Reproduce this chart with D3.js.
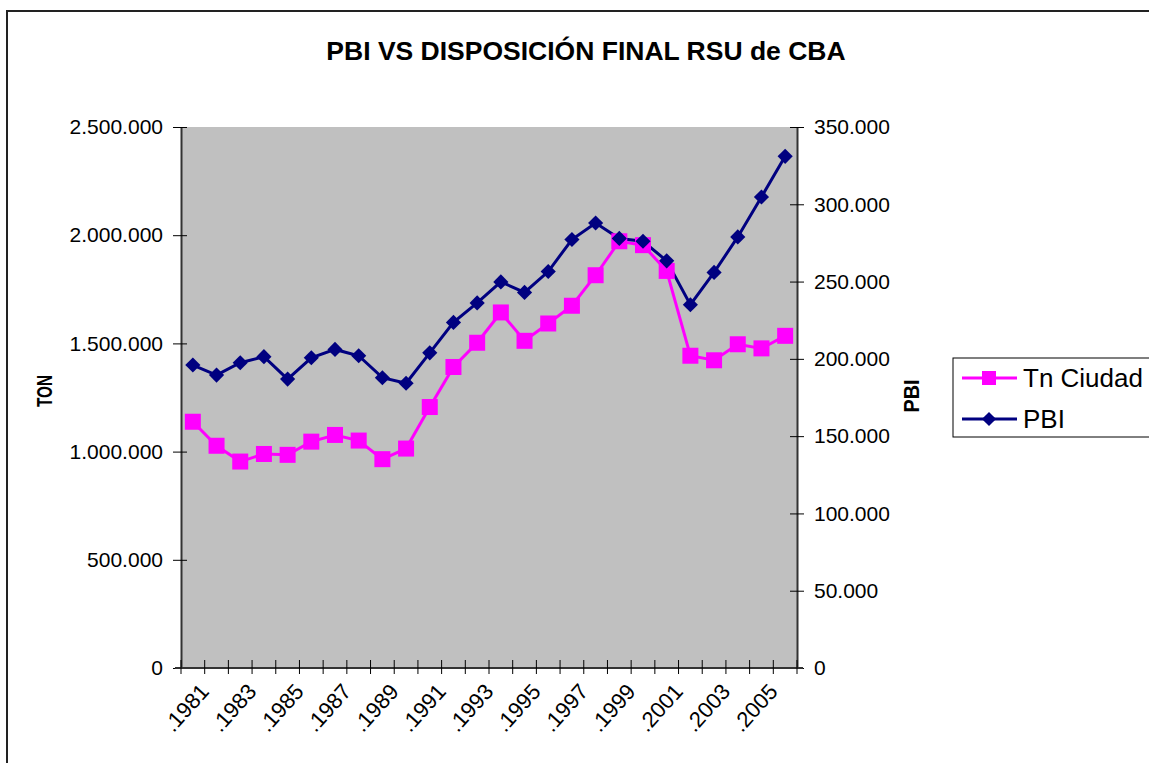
<!DOCTYPE html>
<html>
<head>
<meta charset="utf-8">
<script src="https://cdn.jsdelivr.net/npm/d3@7"></script>
<style>
  body { margin: 0; background: #fff; }
  svg { display: block; font-family: Arial, 'Liberation Sans', sans-serif; }
</style>
</head>
<body>
<div id="chart"></div>
<script>
// years on the category axis
const years = d3.range(1981, 2007)
// tonnes disposed (left axis)
const tnCiudad = [1138000, 1027000, 954000, 989000, 985000, 1046000, 1077000, 1051000, 965000, 1014000,
  1206000, 1391000, 1503000, 1643000, 1512000, 1592000, 1674000, 1815000, 1972000, 1954000,
  1835000, 1443000, 1422000, 1496000, 1477000, 1535000]
// PBI (right axis)
const pbi = [196000, 189500, 197500, 201400, 186900, 200700, 206100, 202000, 187800, 184200,
  203900, 223600, 236200, 249800, 243000, 256500, 277200, 287900, 277900, 276100,
  263400, 235000, 255900, 278900, 304700, 331000]
const leftTicks = [0, 500000, 1000000, 1500000, 2000000, 2500000]
const rightTicks = [0, 50000, 100000, 150000, 200000, 250000, 300000, 350000]
const labelYears = years.filter((d, i) => i % 2 === 0)

const width = 1149
const height = 763
const margin = { top: 127, right: 352, bottom: 95, left: 181 }

const fmt = d => d3.format(',')(d).replace(/,/g, '.')

const svg = d3.select('#chart').append('svg')
  .attr('width', width)
  .attr('height', height)

// outer chart frame (runs off the right/bottom edge)
svg.append('rect')
  .attr('x', 7)
  .attr('y', 11)
  .attr('width', width + 20)
  .attr('height', height + 20)
  .attr('fill', '#fff')
  .attr('stroke', '#222')
  .attr('stroke-width', 2)

const x = d3.scaleBand()
  .domain(years)
  .range([margin.left, width - margin.right])

const yL = d3.scaleLinear()
  .domain([0, 2500000])
  .range([height - margin.bottom, margin.top])

const yR = d3.scaleLinear()
  .domain([0, 350000])
  .range([height - margin.bottom, margin.top])

// plot area
svg.append('rect')
  .attr('x', margin.left)
  .attr('y', margin.top)
  .attr('width', x.range()[1] - margin.left)
  .attr('height', yL(0) - margin.top)
  .attr('fill', '#c0c0c0')

// title
svg.append('text')
  .attr('x', 586)
  .attr('y', 60)
  .attr('text-anchor', 'middle')
  .style('font-weight', 'bold')
  .style('font-size', '26.5px')
  .text('PBI VS DISPOSICIÓN FINAL RSU de CBA')

// left axis
const gL = svg.append('g')
  .attr('transform', `translate(${margin.left},0)`)
  .call(d3.axisLeft(yL).tickValues(leftTicks).tickFormat(fmt).tickSizeInner(8).tickSizeOuter(0).tickPadding(10))
gL.selectAll('.tick line').attr('x2', -8).attr('x1', 6)

// right axis
const xRight = x.range()[1]
const gR = svg.append('g')
  .attr('transform', `translate(${xRight},0)`)
  .call(d3.axisRight(yR).tickValues(rightTicks).tickFormat(fmt).tickSizeInner(7).tickSizeOuter(0).tickPadding(10))
gR.selectAll('.tick line').attr('x1', -7)

// bottom axis: ticks on category boundaries
const bounds = years.map(d => x(d)).concat([xRight])
svg.append('line')
  .attr('x1', margin.left - 6).attr('x2', xRight + 6)
  .attr('y1', yL(0)).attr('y2', yL(0))
  .attr('stroke', '#333').attr('stroke-width', 2)
svg.append('g').selectAll('line')
  .data(bounds)
  .enter().append('line')
  .attr('x1', d => d).attr('x2', d => d)
  .attr('y1', yL(0) - 8).attr('y2', yL(0) + 6)
  .attr('stroke', '#000')

// year labels
svg.append('g').selectAll('text')
  .data(labelYears)
  .enter().append('text')
  .attr('transform', d => `translate(${x(d) + x.bandwidth() / 2 + 6},${yL(0) + 14}) rotate(-48)`)
  .attr('text-anchor', 'end')
  .attr('dy', '0.7em')
  .style('font-size', '22px')
  .text(d => '.' + d)

svg.selectAll('.domain').attr('stroke', '#333').attr('stroke-width', 2)
svg.selectAll('.tick text').style('font-size', '21px').attr('fill', '#000')
svg.selectAll('.tick line').attr('stroke', '#000')

// axis titles
svg.append('text')
  .attr('transform', 'translate(52,391) rotate(-90)')
  .attr('text-anchor', 'middle')
  .style('font-weight', 'bold')
  .style('font-size', '22px')
  .attr('textLength', 32)
  .attr('lengthAdjust', 'spacingAndGlyphs')
  .text('TON')

svg.append('text')
  .attr('transform', 'translate(919,396) rotate(-90)')
  .attr('text-anchor', 'middle')
  .style('font-weight', 'bold')
  .style('font-size', '22px')
  .attr('textLength', 33)
  .attr('lengthAdjust', 'spacingAndGlyphs')
  .text('PBI')

const cx = d => x(d) + x.bandwidth() / 2

// Tn Ciudad series
const lineL = d3.line().x((d, i) => cx(years[i])).y(d => yL(d))
svg.append('path')
  .datum(tnCiudad)
  .attr('fill', 'none')
  .attr('stroke', '#ff00ff')
  .attr('stroke-width', 3)
  .attr('d', lineL)

// PBI series
const lineR = d3.line().x((d, i) => cx(years[i])).y(d => yR(d))
svg.append('path')
  .datum(pbi)
  .attr('fill', 'none')
  .attr('stroke', '#000080')
  .attr('stroke-width', 3)
  .attr('d', lineR)

svg.append('g').selectAll('rect')
  .data(tnCiudad)
  .enter().append('rect')
  .attr('x', (d, i) => cx(years[i]) - 8)
  .attr('y', d => yL(d) - 8)
  .attr('width', 16)
  .attr('height', 16)
  .attr('fill', '#ff00ff')

svg.append('g').selectAll('path')
  .data(pbi)
  .enter().append('path')
  .attr('transform', (d, i) => `translate(${cx(years[i])},${yR(d)}) rotate(45)`)
  .attr('d', d3.symbol().type(d3.symbolSquare).size(115))
  .attr('fill', '#000080')

// legend
const legend = svg.append('g')
legend.append('rect')
  .attr('x', 953).attr('y', 358)
  .attr('width', 220).attr('height', 79)
  .attr('fill', '#fff').attr('stroke', '#000').attr('stroke-width', 1)

const legendItems = [
  { name: 'Tn Ciudad', color: '#ff00ff', shape: 'square', y: 378 },
  { name: 'PBI', color: '#000080', shape: 'diamond', y: 419 }
]
legendItems.forEach(item => {
  legend.append('line')
    .attr('x1', 962).attr('x2', 1017)
    .attr('y1', item.y).attr('y2', item.y)
    .attr('stroke', item.color).attr('stroke-width', 3)
  if (item.shape === 'square') {
    legend.append('rect')
      .attr('x', 982).attr('y', item.y - 7)
      .attr('width', 14).attr('height', 14)
      .attr('fill', item.color)
  } else {
    legend.append('path')
      .attr('transform', `translate(989,${item.y}) rotate(45)`)
      .attr('d', d3.symbol().type(d3.symbolSquare).size(100))
      .attr('fill', item.color)
  }
  legend.append('text')
    .attr('x', 1023).attr('y', item.y)
    .attr('dy', '0.35em')
    .style('font-size', '26px')
    .text(item.name)
})
</script>
</body>
</html>
